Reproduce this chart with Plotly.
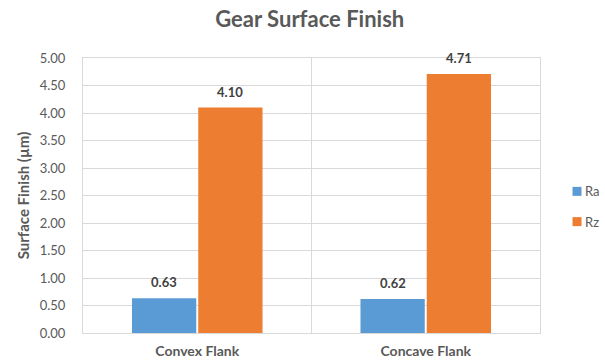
import plotly.graph_objects as go

categories = ["Convex Flank", "Concave Flank"]
ra_values = [0.63, 0.62]
rz_values = [4.10, 4.71]
y_ticks = [0, 0.5, 1, 1.5, 2, 2.5, 3, 3.5, 4, 4.5, 5]
series = [("Ra", ra_values, "#5b9bd5"), ("Rz", rz_values, "#ed7d31")]

font_family = "Lato, 'Open Sans', sans-serif"
text_grey = "#595959"
label_grey = "#404040"

W, H = 605, 360
margin = dict(l=83, r=65, t=58, b=27)
bargap, bargroupgap = 0.42, 0.03

fig = go.Figure()
for name, vals, color in series:
    fig.add_trace(go.Bar(
        name=name, x=categories, y=vals,
        marker=dict(color=color, line=dict(width=0)),
        showlegend=False,
    ))

# value labels above each bar, offset to the bar's slot within the group
plot_w = W - margin["l"] - margin["r"]
cat_w = plot_w / len(categories)
slot_w = cat_w * (1 - bargap) / len(series)
for i, (name, vals, color) in enumerate(series):
    dx = (i - (len(series) - 1) / 2) * slot_w
    for cat, v in zip(categories, vals):
        fig.add_annotation(
            x=cat, y=v, xref="x", yref="y", text=f"<b>{v:.2f}</b>",
            showarrow=False, xshift=dx, yshift=16, yanchor="middle",
            font=dict(size=13, color=label_grey, family=font_family),
        )

# legend: small square swatch plus series name in the right margin
legend_x = 1.081
legend_y = [0.515, 0.405]
for (name, vals, color), ly in zip(series, legend_y):
    fig.add_shape(
        type="rect", xref="paper", yref="paper",
        xsizemode="pixel", ysizemode="pixel",
        xanchor=legend_x, yanchor=ly, x0=-4.5, x1=4.5, y0=-4.5, y1=4.5,
        fillcolor=color, line=dict(width=0),
    )
    fig.add_annotation(
        x=legend_x, y=ly, xref="paper", yref="paper", text=name,
        showarrow=False, xanchor="left", yanchor="middle", xshift=6,
        font=dict(size=13, color=text_grey, family=font_family),
    )

fig.update_layout(
    width=W, height=H,
    margin=dict(**margin, autoexpand=False),
    paper_bgcolor="white", plot_bgcolor="white",
    barmode="group", bargap=bargap, bargroupgap=bargroupgap,
    font=dict(family=font_family, color=text_grey, size=12),
    title=dict(text="<b>Gear Surface Finish</b>", x=0.512, xref="container",
               xanchor="center", y=0.947, yref="container",
               yanchor="middle",
               font=dict(size=22, color=text_grey, family=font_family)),
    showlegend=False,
)
fig.update_xaxes(
    showgrid=True, gridcolor="#d9d9d9", tickson="boundaries",
    showline=True, linecolor="#d9d9d9", mirror=True,
    ticks="", ticklabelstandoff=5,
    tickfont=dict(size=14, color=text_grey, family=font_family, weight="bold"),
)
fig.update_yaxes(
    range=[0, 5], tickvals=y_ticks, tickformat=".2f",
    showgrid=True, gridcolor="#d9d9d9", zeroline=False,
    showline=True, linecolor="#d9d9d9", mirror=True,
    ticks="", ticklabelstandoff=14,
    tickfont=dict(size=13, color=text_grey),
    title=dict(text="Surface Finish (µm)", standoff=6,
               font=dict(size=15, color=text_grey, weight="bold")),
)

fig.write_html("out.html")
